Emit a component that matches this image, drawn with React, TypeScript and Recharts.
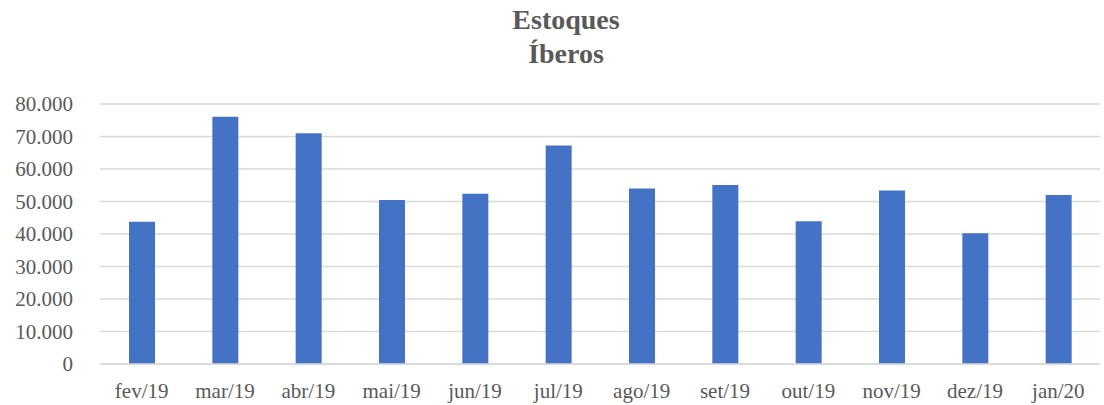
import React from "react";
import { Bar, BarChart, CartesianGrid, XAxis, YAxis } from "recharts";

const months = [
  "fev/19", "mar/19", "abr/19", "mai/19", "jun/19", "jul/19",
  "ago/19", "set/19", "out/19", "nov/19", "dez/19", "jan/20",
];
const stocks = [43800, 76100, 71000, 50500, 52400, 67200, 54000, 55100, 43900, 53400, 40200, 52000];
const yTicks = [0, 10000, 20000, 30000, 40000, 50000, 60000, 70000, 80000];

const rows = months.map((name, i) => ({ name, value: stocks[i] }));

const fmt = (v: number) => String(v).replace(/\B(?=(\d{3})+(?!\d))/g, ".");

const font = '"Liberation Serif", "DejaVu Serif", serif';
const ink = "#595959";

export default function App() {
  return (
    <div style={{ position: "relative", width: 1104, height: 405, background: "#fff", fontFamily: font }}>
      <style>{"body{margin:0}"}</style>
      <div
        style={{
          position: "absolute",
          top: 3,
          left: 0,
          width: 1132,
          textAlign: "center",
          fontWeight: "bold",
          fontSize: 28,
          lineHeight: "34px",
          color: ink,
        }}
      >
        Estoques
        <br />
        Íberos
      </div>
      <BarChart
        width={1104}
        height={405}
        data={rows}
        margin={{ top: 104, right: 4, bottom: 11, left: 0 }}
      >
        <CartesianGrid vertical={false} stroke="#d9d9d9" strokeWidth={1.5} />
        <XAxis
          dataKey="name"
          height={30}
          tickSize={0}
          tickMargin={19}
          axisLine={{ stroke: "#d9d9d9", strokeWidth: 1.5 }}
          tickLine={false}
          tick={{ fill: ink, fontSize: 21, fontFamily: font }}
          interval={0}
        />
        <YAxis
          width={100}
          domain={[0, 80000]}
          ticks={yTicks}
          tickFormatter={fmt}
          tickSize={0}
          tickMargin={27}
          axisLine={false}
          tickLine={false}
          tick={{ fill: ink, fontSize: 21, fontFamily: font }}
        />
        <Bar dataKey="value" fill="#4472C4" barSize={26} isAnimationActive={false} />
      </BarChart>
    </div>
  );
}
